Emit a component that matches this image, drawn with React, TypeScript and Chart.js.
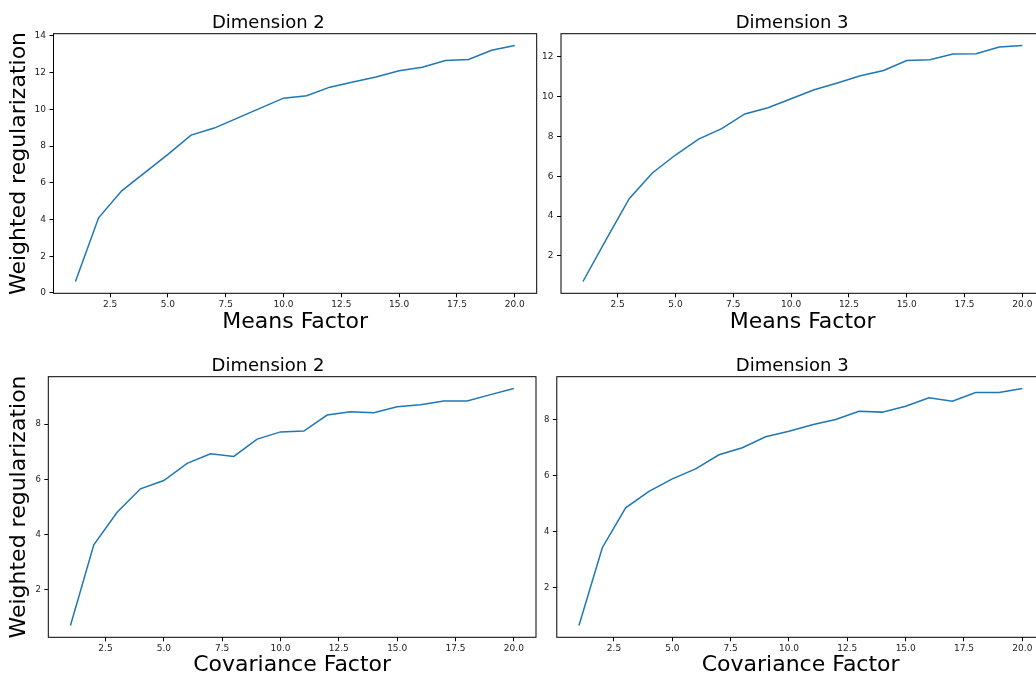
import React, { useEffect, useRef } from "react";
import { Chart, registerables } from "chart.js";

Chart.register(...registerables);

// ---- data ----
const factors = [1, 2, 3, 4, 5, 6, 7, 8, 9, 10, 11, 12, 13, 14, 15, 16, 17, 18, 19, 20];

const meansDim2 = [0.62, 4.09, 5.56, 6.55, 7.55, 8.6, 8.98, 9.52, 10.07, 10.61, 10.74, 11.21, 11.49, 11.76, 12.1, 12.3, 12.66, 12.72, 13.22, 13.48];
const meansDim3 = [0.72, 2.82, 4.87, 6.16, 7.06, 7.86, 8.38, 9.12, 9.43, 9.88, 10.33, 10.67, 11.03, 11.3, 11.8, 11.84, 12.12, 12.14, 12.47, 12.55];
const covDim2 = [0.71, 3.63, 4.81, 5.66, 5.96, 6.58, 6.93, 6.83, 7.46, 7.72, 7.75, 8.33, 8.45, 8.41, 8.63, 8.7, 8.84, 8.84, 9.07, 9.29];
const covDim3 = [0.66, 3.43, 4.85, 5.44, 5.88, 6.24, 6.74, 6.99, 7.38, 7.58, 7.81, 8.0, 8.29, 8.26, 8.47, 8.77, 8.65, 8.96, 8.96, 9.1];

const xTicks = [2.5, 5, 7.5, 10, 12.5, 15, 17.5, 20];
const yTicksMeansDim2 = [0, 2, 4, 6, 8, 10, 12, 14];
const yTicksMeansDim3 = [2, 4, 6, 8, 10, 12];
const yTicksCov = [2, 4, 6, 8];

const titles = ["Dimension 2", "Dimension 3"];
const xLabels = ["Means Factor", "Covariance Factor"];
const yLabel = "Weighted regularization";

const FONT = "'DejaVu Sans', sans-serif";
const LINE_COLOR = "#1f77b4";

const boxPlugin = {
  id: "boxPlugin",
  afterDraw(chart: any) {
    const { ctx, chartArea } = chart;
    const { left, top, right, bottom } = chartArea;
    ctx.save();
    ctx.strokeStyle = "#000";
    ctx.lineWidth = 1;
    ctx.strokeRect(left, top, right - left, bottom - top);
    ctx.restore();
  },
};

type PanelProps = {
  left: number;
  top: number;
  width: number;
  height: number;
  chartLeft: number;
  chartRight: number;
  chartTop: number;
  chartBottom: number;
  title: string;
  xLabel: string;
  yLabel?: string;
  values: number[];
  yTicks: number[];
  yTickSize: number;
};

function Panel(p: PanelProps) {
  const ref = useRef<HTMLCanvasElement | null>(null);

  useEffect(() => {
    if (!ref.current) return;
    const ymin = Math.min(...p.values);
    const ymax = Math.max(...p.values);
    const yr = ymax - ymin;
    const xmin = factors[0];
    const xmax = factors[factors.length - 1];
    const xr = xmax - xmin;

    const titleLH = 18 * 1.2;
    const yAxisWidth = p.chartLeft - p.left;
    const xAxisHeight = p.top + p.height - p.chartBottom;
    const rightPad = p.left + p.width - p.chartRight;
    const titlePadTop = p.chartTop - p.top - titleLH;

    const chart = new Chart(ref.current, {
      type: "line",
      data: {
        datasets: [
          {
            data: factors.map((x, i) => ({ x, y: p.values[i] })),
            borderColor: LINE_COLOR,
            borderWidth: 1.5,
            pointRadius: 0,
            tension: 0,
            fill: false,
          },
        ],
      },
      options: {
        responsive: false,
        animation: false,
        events: [],
        layout: { padding: { left: 0, top: 0, right: rightPad, bottom: 0 } },
        plugins: {
          legend: { display: false },
          tooltip: { enabled: false },
          title: {
            display: true,
            text: p.title,
            color: "#000",
            font: { family: FONT, size: 18, weight: "normal" as any, lineHeight: 1.2 },
            padding: { top: titlePadTop, bottom: 0 },
          },
        },
        scales: {
          x: {
            type: "linear",
            min: xmin - 0.05 * xr,
            max: xmax + 0.05 * xr,
            afterBuildTicks: (scale: any) => {
              scale.ticks = xTicks.map((v) => ({ value: v }));
            },
            afterFit: (scale: any) => {
              scale.height = xAxisHeight;
            },
            border: { display: false },
            grid: {
              drawOnChartArea: false,
              drawTicks: true,
              tickLength: 4,
              color: "#000",
              tickColor: "#000",
            },
            ticks: {
              autoSkip: false,
              maxRotation: 0,
              padding: 2,
              color: "#222",
              font: { family: FONT, size: 9 },
              callback: (v: any) => Number(v).toFixed(1),
            },
            title: {
              display: true,
              text: p.xLabel,
              color: "#000",
              font: { family: FONT, size: 22, lineHeight: 1.2 },
              padding: { top: 0, bottom: 4.4 },
            },
          },
          y: {
            type: "linear",
            min: ymin - 0.05 * yr,
            max: ymax + 0.05 * yr,
            afterBuildTicks: (scale: any) => {
              scale.ticks = p.yTicks.map((v) => ({ value: v }));
            },
            afterFit: (scale: any) => {
              scale.width = yAxisWidth;
            },
            border: { display: false },
            grid: {
              drawOnChartArea: false,
              drawTicks: true,
              tickLength: 4,
              color: "#000",
              tickColor: "#000",
            },
            ticks: {
              autoSkip: false,
              padding: 3.5,
              color: "#222",
              font: { family: FONT, size: p.yTickSize },
              callback: (v: any) => String(v),
            },
            title: {
              display: !!p.yLabel,
              text: p.yLabel || "",
              color: "#000",
              font: { family: FONT, size: 22, lineHeight: 1.2 },
              padding: { top: 6, bottom: 0 },
            },
          },
        },
      },
      plugins: [boxPlugin],
    } as any);

    return () => chart.destroy();
  }, []);

  return (
    <div style={{ position: "absolute", left: p.left, top: p.top, width: p.width, height: p.height }}>
      <canvas ref={ref} width={p.width} height={p.height} style={{ display: "block" }} />
    </div>
  );
}

export default function App() {
  return (
    <div
      style={{
        position: "absolute",
        left: 0,
        top: 0,
        width: 1036,
        height: 680,
        overflow: "hidden",
        background: "#fff",
      }}
    >
      <Panel
        left={0}
        top={0}
        width={540}
        height={340}
        chartLeft={53.5}
        chartRight={536.7}
        chartTop={33.7}
        chartBottom={293.3}
        title={titles[0]}
        xLabel={xLabels[0]}
        yLabel={yLabel}
        values={meansDim2}
        yTicks={yTicksMeansDim2}
        yTickSize={9}
      />
      <Panel
        left={540}
        top={0}
        width={510}
        height={340}
        chartLeft={561}
        chartRight={1044.3}
        chartTop={33.7}
        chartBottom={293.3}
        title={titles[1]}
        xLabel={xLabels[0]}
        values={meansDim3}
        yTicks={yTicksMeansDim3}
        yTickSize={9}
      />
      <Panel
        left={0}
        top={343}
        width={540}
        height={340}
        chartLeft={48.3}
        chartRight={536}
        chartTop={376.7}
        chartBottom={637.3}
        title={titles[0]}
        xLabel={xLabels[1]}
        yLabel={yLabel}
        values={covDim2}
        yTicks={yTicksCov}
        yTickSize={8.5}
      />
      <Panel
        left={540}
        top={343}
        width={510}
        height={340}
        chartLeft={556.8}
        chartRight={1044.5}
        chartTop={376.7}
        chartBottom={637.3}
        title={titles[1]}
        xLabel={xLabels[1]}
        values={covDim3}
        yTicks={yTicksCov}
        yTickSize={8.5}
      />
    </div>
  );
}
